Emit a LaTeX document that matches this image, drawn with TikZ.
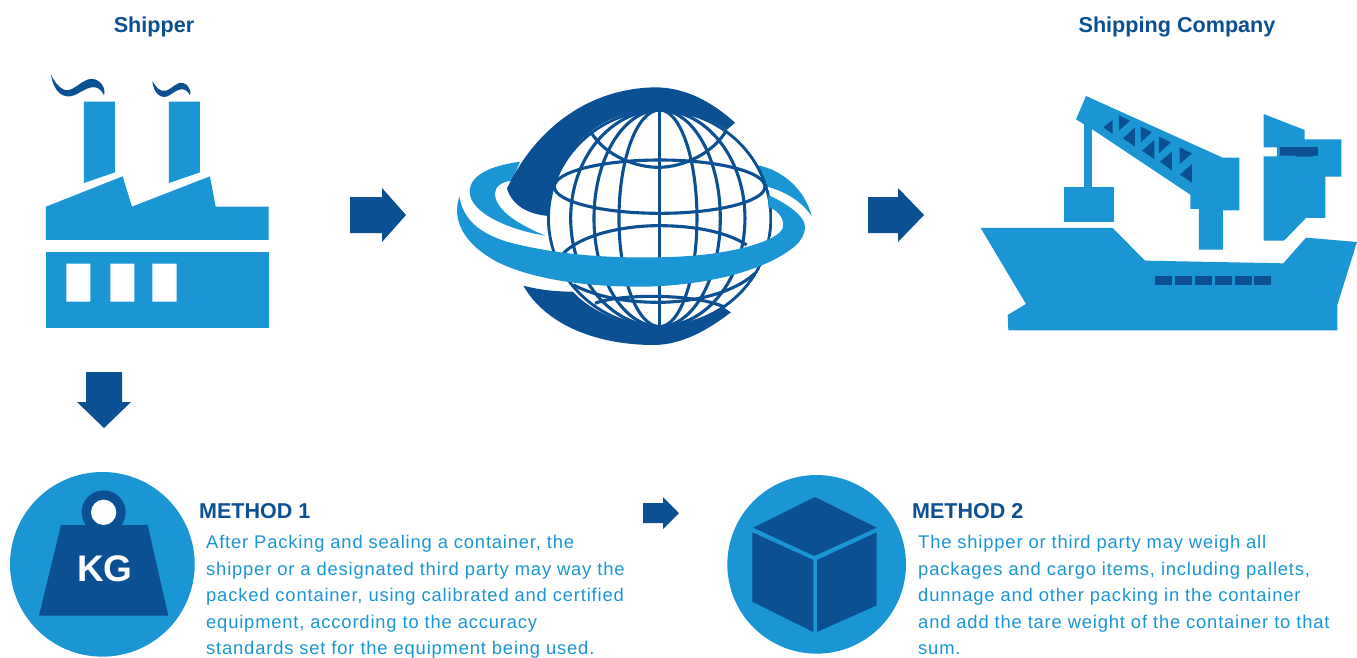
\documentclass[tikz,border=0pt]{standalone}
\usepackage{fontspec}
\setmainfont{Liberation Sans}
\newfontfamily\bodyfont[LetterSpace=4.5]{Liberation Sans}
\definecolor{lb}{HTML}{1A96D4}
\definecolor{db}{HTML}{0B5092}
\tikzset{
  lightfill/.style={fill=lb,draw=none},
  darkfill/.style={fill=db,draw=none},
  gridline/.style={draw=db,line width=3.1pt},
  head/.style={font=\bfseries\fontsize{21.6}{24}\selectfont,text=db,inner sep=0pt},
  methodhead/.style={font=\bfseries\fontsize{21.5}{24}\selectfont,text=db,anchor=base west,inner sep=0pt},
  bodyline/.style={font=\bodyfont\fontsize{18.37}{22}\selectfont,text=lb,anchor=base west,inner sep=0pt},
}
\begin{document}
\begin{tikzpicture}[x=1pt,y=-1pt]
\useasboundingbox (0,0) rectangle (1357,657);
\fill[white] (0,0) rectangle (1357,657);
% titles
\node[head] (shipper) at (154,26.7) {Shipper};
\node[head] (company) at (1177,26.7) {Shipping Company};
% factory
\begin{scope}[shift={(30,60)},x=0.3333pt,y=-0.3333pt]
\fill[lightfill] (162,125) -- (255,125) -- (255,337) -- (162,369) -- cycle;
\fill[lightfill] (417,125) -- (510,125) -- (510,337) -- (417,369) -- cycle;
\fill[lightfill] (48,440) -- (278,349) -- (306,440) -- (540,349) -- (557,440) -- (716,440) -- (716,540) -- (48,540) -- cycle;
\fill[lightfill] (48,576) rectangle (716,803);
\fill[white] (109,611) rectangle (181,725) (241,611) rectangle (313,725) (367,611) rectangle (440,725);
\fill[darkfill] (63,43) .. controls (70,95) and (100,120) .. (135,105) .. controls (165,90) and (200,60) .. (222,106) .. controls (230,80) and (205,50) .. (175,58) .. controls (145,68) and (125,100) .. (100,88) .. controls (85,80) and (72,65) .. (63,43) -- cycle;
\fill[darkfill] (367,63) .. controls (370,100) and (395,122) .. (420,105) .. controls (440,90) and (465,75) .. (480,106) .. controls (487,85) and (465,62) .. (445,70) .. controls (425,78) and (415,98) .. (395,92) .. controls (382,87) and (375,75) .. (367,63) -- cycle;
\end{scope}
% globe
\begin{scope}[shift={(440,80)},x=0.3333pt,y=-0.3333pt]
% rear swooshes
\fill[lightfill] (240,245) .. controls (150,258) and (90,285) .. (89,335) .. controls (90,400) and (210,450) .. (316,467) .. controls (250,440) and (165,395) .. (165,340) .. controls (165,320) and (185,305) .. (215,302) -- cycle;
\fill[lightfill] (950,255) .. controls (1030,270) and (1095,330) .. (1115,408) .. controls (1085,365) and (1040,335) .. (975,318) -- cycle;
% crescents
\fill[darkfill] (885,128) .. controls (810,60) and (730,22) .. (645,22) .. controls (450,25) and (290,140) .. (201,325) .. controls (215,375) and (265,405) .. (330,408) .. controls (330,280) and (420,90) .. (658,88) .. controls (740,88) and (810,115) .. (860,150) -- cycle;
\fill[darkfill] (250,617) .. controls (320,740) and (480,795) .. (640,795) .. controls (730,795) and (810,745) .. (873,697) -- (850,682) .. controls (800,720) and (730,740) .. (658,740) .. controls (560,740) and (460,700) .. (398,635) .. controls (340,635) and (290,628) .. (250,617) -- cycle;
% globe lines
\fill[white] (659,415) ellipse [x radius=334,y radius=325];
\begin{scope}
\clip (659,415) ellipse [x radius=338,y radius=329];
\draw[gridline] (659,415) ellipse [x radius=334,y radius=325];
\draw[gridline] (658,90) -- (658,740);
\begin{scope}
\clip (300,60) rectangle (658,770);
\foreach \rx in {122,197,267}{\draw[gridline] (659,415) ellipse [x radius=\rx,y radius=325];}
\end{scope}
\begin{scope}
\clip (658,60) rectangle (1020,770);
\foreach \rx in {112,182,256}{\draw[gridline] (659,415) ellipse [x radius=\rx,y radius=325];}
\end{scope}
\draw[gridline] (659,320) ellipse [x radius=316,y radius=80];
\draw[gridline] (455,160) .. controls (500,230) and (590,262) .. (655,262) .. controls (730,262) and (820,220) .. (860,150);
\draw[gridline] (370,520) .. controls (430,460) and (560,437) .. (655,437) .. controls (760,437) and (860,455) .. (920,495);
\draw[gridline] (400,615) .. controls (480,655) and (570,667) .. (655,667) .. controls (760,667) and (880,640) .. (945,580);
\draw[gridline] (465,670) .. controls (540,640) and (780,640) .. (860,685);
\end{scope}
% front band
\fill[lightfill] (58,350) .. controls (35,420) and (70,490) .. (170,545) .. controls (280,600) and (450,622) .. (620,620) .. controls (800,615) and (960,575) .. (1050,510) .. controls (1080,490) and (1095,465) .. (1095,440) .. controls (1095,415) and (1060,380) .. (985,345) -- (985,380) .. controls (1020,395) and (1035,420) .. (1028,445) .. controls (1015,480) and (880,530) .. (650,532) .. controls (480,535) and (330,520) .. (200,485) .. controls (120,460) and (70,420) .. (58,350) -- cycle;
\end{scope}
% ship
\begin{scope}[shift={(970,90)},x=0.3333pt,y=-0.3333pt]
\fill[lightfill] (32,414) -- (428,414) -- (525,512) -- (940,520) -- (1008,443) -- (1161,456) -- (1102,645) -- (1102,721) -- (115,721) -- (113,675) -- (168,642) -- cycle;
\fill[lightfill] (282,291) rectangle (432,396);
\fill[lightfill] (343,95) rectangle (367,291);
\fill[lightfill] (348,18) -- (758,203) -- (808,203) -- (808,361) -- (759,361) -- (759,479) -- (687,479) -- (687,357) -- (661,357) -- (661,314) -- (367,118) -- (318,88) -- cycle;
\fill[lightfill] (881,72) -- (1004,120) -- (1004,148) -- (1114,148) -- (1114,260) -- (1066,260) -- (1066,384) -- (1008,384) -- (942,452) -- (881,452) -- (881,199) -- (921,199) -- (921,172) -- (881,172) -- cycle;
\fill[darkfill] (930,171) -- (1044,171) -- (1044,197) -- (1028,197) -- (1028,200) -- (978,200) -- (978,197) -- (930,197) -- cycle;
\foreach \a/\b in {555/606,615/666,675/726,735/786,795/846,852/903}{\fill[darkfill] (\a,558) rectangle (\b,584);}
\fill[darkfill] (428,90) -- (428,132) -- (400,112) -- cycle;
\fill[darkfill] (447,76) -- (480,92) -- (447,122) -- cycle;
\fill[darkfill] (495,112) -- (495,170) -- (459,145) -- cycle;
\fill[darkfill] (513,110) -- (546,126) -- (513,157) -- cycle;
\fill[darkfill] (553,150) -- (553,207) -- (516,182) -- cycle;
\fill[darkfill] (567,140) -- (603,157) -- (567,190) -- cycle;
\fill[darkfill] (606,185) -- (606,242) -- (570,215) -- cycle;
\fill[darkfill] (629,172) -- (666,190) -- (629,222) -- cycle;
\fill[darkfill] (666,222) -- (666,278) -- (630,254) -- cycle;
\end{scope}
% arrows
\fill[darkfill] (350,197) -- (382,197) -- (382,188) -- (406,215) -- (382,242) -- (382,233) -- (350,233) -- cycle;
\fill[darkfill] (868,197) -- (898,197) -- (898,188) -- (924,215) -- (898,242) -- (898,233) -- (868,233) -- cycle;
\fill[darkfill] (86,372) -- (122,372) -- (122,402) -- (131,402) -- (104,428) -- (77,402) -- (86,402) -- cycle;
\fill[darkfill] (643,503) -- (663,503) -- (663,497) -- (679,513) -- (663,529) -- (663,523) -- (643,523) -- cycle;
% weight
\begin{scope}[shift={(0,460)},x=0.3333pt,y=-0.3333pt]
\fill[lightfill] (307,313) circle [radius=277];
\fill[darkfill] (311,157) circle [radius=66];
\fill[white] (311,157) circle [radius=38];
\fill[darkfill] (183,195) -- (443,195) -- (505,467) -- (117,467) -- cycle;
\end{scope}
\node[font=\bfseries\fontsize{37}{40}\selectfont,text=white,inner sep=0pt] (kg) at (105,569) {KG};
% cube
\begin{scope}[shift={(720,465)},x=0.3333pt,y=-0.3333pt]
\fill[lightfill] (290,298) circle [radius=268];
\fill[darkfill] (285,96) -- (470,188) -- (283,273) -- (100,188) -- cycle;
\fill[darkfill] (97,202) -- (280,285) -- (280,501) -- (97,410) -- cycle;
\fill[darkfill] (291,285) -- (470,202) -- (470,421) -- (291,501) -- cycle;
\end{scope}
% text
\node[methodhead] (m1) at (199,518) {METHOD 1};
\node[bodyline] (a1) at (206,548) {After Packing and sealing a container, the};
\node[bodyline] (a2) at (206,575) {shipper or a designated third party may way the};
\node[bodyline] (a3) at (206,601) {packed container, using calibrated and certified};
\node[bodyline] (a4) at (206,628) {equipment, according to the accuracy};
\node[bodyline] (a5) at (206,654) {standards set for the equipment being used.};
\node[methodhead] (m2) at (912,518) {METHOD 2};
\node[bodyline] (b1) at (918,548) {The shipper or third party may weigh all};
\node[bodyline] (b2) at (918,575) {packages and cargo items, including pallets,};
\node[bodyline] (b3) at (918,601) {dunnage and other packing in the container};
\node[bodyline] (b4) at (918,628) {and add the tare weight of the container to that};
\node[bodyline] (b5) at (918,654) {sum.};
\end{tikzpicture}
\end{document}
